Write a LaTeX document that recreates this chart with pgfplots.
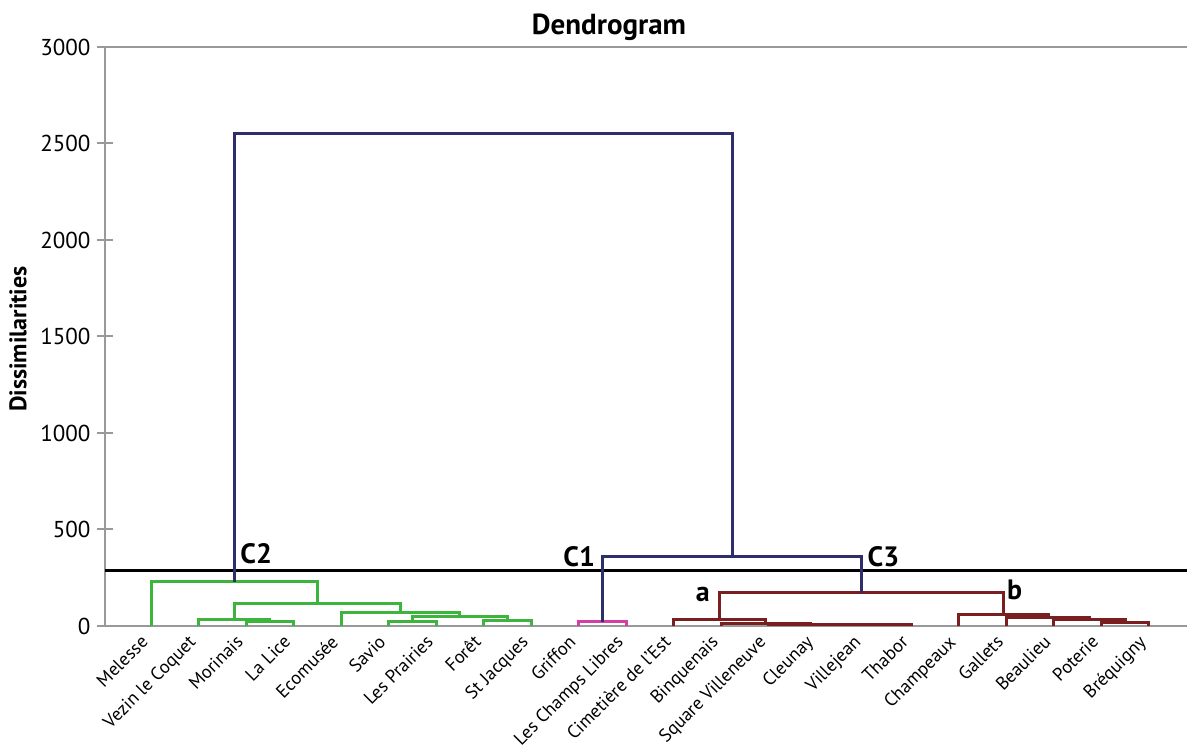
\documentclass[border=0pt]{standalone}
\usepackage{pgfplots}
\pgfplotsset{compat=1.18}
\usepackage{fontspec}
\setmainfont{PT Sans}
\definecolor{cgreen}{HTML}{3DB53D}
\definecolor{cpink}{HTML}{D43FA3}
\definecolor{cred}{HTML}{7A1F1F}
\definecolor{cnavy}{HTML}{2E2E6B}
\definecolor{axgray}{HTML}{999999}
\begin{document}
\begin{tikzpicture}
\useasboundingbox (0,0) rectangle (594.5pt,373.5pt);
\begin{axis}[
  at={(52.5pt,60.5pt)}, anchor=south west,
  width=541pt, height=289.5pt, scale only axis,
  xmin=-0.97, xmax=21.8, ymin=0, ymax=3000,
  axis x line*=bottom, axis y line*=left,
  axis line style={axgray, line width=1pt},
  ytick={0,500,...,3000},
  tick align=center, major tick length=7.5pt,
  ytick style={axgray, line width=1pt},
  xtick={0,...,21},
  xtick style={draw=none},
  xticklabels={Melesse,Vezin le Coquet,Morinais,La Lice,Ecomusée,Savio,Les Prairies,Forêt,St Jacques,Griffon,Les Champs Libres,Cimetière de l'Est,Binquenais,Square Villeneuve,Cleunay,Villejean,Thabor,Champeaux,Gallets,Beaulieu,Poterie,Bréquigny},
  x tick label style={rotate=45, anchor=north east, font=\fontsize{9.2}{11}\selectfont, inner sep=1pt, xshift=-3pt, yshift=5pt},
  y tick label style={font=\fontsize{11.5}{12}\selectfont},
  /pgf/number format/assume math mode=true,
  /pgf/number format/1000 sep={},
  clip=false,
  every axis plot/.append style={line width=1.5pt, line join=miter},
]
% cut line
\addplot[black, line width=1.5pt] coordinates {(-0.97,290) (21.8,290)};
% green cluster
\addplot[cgreen] coordinates {(2,0) (2,25) (3,25) (3,0)};
\addplot[cgreen] coordinates {(1,0) (1,36) (2.5,36) (2.5,25)};
\addplot[cgreen] coordinates {(5,0) (5,22) (6,22) (6,0)};
\addplot[cgreen] coordinates {(7,0) (7,28) (8,28) (8,0)};
\addplot[cgreen] coordinates {(5.5,22) (5.5,48) (7.5,48) (7.5,28)};
\addplot[cgreen] coordinates {(4,0) (4,68) (6.5,68) (6.5,48)};
\addplot[cgreen] coordinates {(1.75,36) (1.75,118) (5.25,118) (5.25,68)};
\addplot[cgreen] coordinates {(0,0) (0,228) (3.5,228) (3.5,118)};
% pink
\addplot[cpink] coordinates {(9,0) (9,22) (10,22) (10,0)};
% dark red
\addplot[cred] coordinates {(15,0) (15,6) (16,6) (16,0)};
\addplot[cred] coordinates {(14,0) (14,8) (15.5,8) (15.5,6)};
\addplot[cred] coordinates {(13,0) (13,10) (14.75,10) (14.75,8)};
\addplot[cred] coordinates {(12,0) (12,14) (13.875,14) (13.875,10)};
\addplot[cred] coordinates {(11,0) (11,35) (12.9375,35) (12.9375,14)};
\addplot[cred] coordinates {(20,0) (20,20) (21,20) (21,0)};
\addplot[cred] coordinates {(19,0) (19,32) (20.5,32) (20.5,20)};
\addplot[cred] coordinates {(18,0) (18,45) (19.75,45) (19.75,32)};
\addplot[cred] coordinates {(17,0) (17,60) (18.875,60) (18.875,45)};
\addplot[cred] coordinates {(11.97,35) (11.97,173) (17.94,173) (17.94,60)};
% navy
\addplot[cnavy] coordinates {(9.5,22) (9.5,358) (14.955,358) (14.955,173)};
\addplot[cnavy] coordinates {(1.75,228) (1.75,2552) (12.23,2552) (12.23,358)};
% top frame line
\draw[axgray, line width=1pt] (rel axis cs:0,1) -- (rel axis cs:1,1);
% annotations
\node[anchor=base west, font=\bfseries\fontsize{14}{14}\selectfont, inner sep=0pt] at (axis cs:1.87,326) {C2};
\node[anchor=base east, font=\bfseries\fontsize{14}{14}\selectfont, inner sep=0pt] at (axis cs:9.35,306) {C1};
\node[anchor=base west, font=\bfseries\fontsize{14}{14}\selectfont, inner sep=0pt] at (axis cs:15.07,306) {C3};
\node[anchor=base, font=\bfseries\fontsize{14}{14}\selectfont, inner sep=0pt] at (axis cs:11.61,126) {a};
\node[anchor=base, font=\bfseries\fontsize{14}{14}\selectfont, inner sep=0pt] at (axis cs:18.17,135) {b};
\end{axis}
\node[font=\bfseries\fontsize{14.5}{14.5}\selectfont] at (304.5pt,360pt) {Dendrogram};
\node[rotate=90, font=\bfseries\fontsize{12}{12}\selectfont] at (9pt,204pt) {Dissimilarities};
\end{tikzpicture}
\end{document}
